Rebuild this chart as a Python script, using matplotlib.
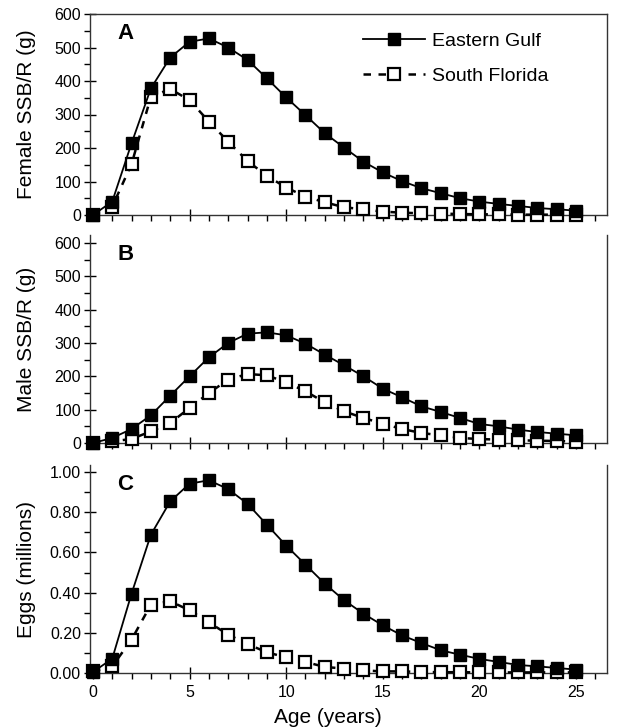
import matplotlib
matplotlib.use("Agg")
import matplotlib.pyplot as plt
from matplotlib.ticker import MultipleLocator, FixedLocator

plt.rcParams['font.family'] = ['Liberation Sans', 'DejaVu Sans']

ages = list(range(26))

female_eg = [0, 40, 214, 378, 470, 517, 527, 500, 463, 408, 351, 298, 244, 201, 159,
             127, 101, 80, 65, 50, 40, 33, 27, 21, 17, 13]
female_sf = [0, 25, 152, 353, 376, 343, 279, 219, 161, 117, 82, 55, 38, 23, 17,
             10, 7, 5, 4, 3, 2, 2, 1, 1, 1, 1]
male_eg = [0, 15, 42, 83, 142, 200, 257, 300, 328, 332, 323, 298, 265, 233, 200,
           163, 137, 110, 93, 75, 57, 50, 40, 33, 28, 23]
male_sf = [0, 5, 12, 35, 60, 105, 150, 190, 207, 203, 182, 155, 122, 95, 75,
           58, 42, 30, 23, 15, 12, 10, 8, 7, 6, 4]
eggs_eg = [0.005, 0.071, 0.395, 0.688, 0.854, 0.942, 0.959, 0.915, 0.842, 0.738, 0.634,
           0.539, 0.444, 0.362, 0.295, 0.237, 0.187, 0.149, 0.113, 0.091, 0.070,
           0.055, 0.040, 0.033, 0.025, 0.017]
eggs_sf = [0.008, 0.033, 0.166, 0.340, 0.357, 0.312, 0.252, 0.191, 0.144, 0.103, 0.078,
           0.055, 0.030, 0.022, 0.013, 0.008, 0.008, 0.005, 0.004, 0.004, 0.003,
           0.003, 0.003, 0.003, 0.003, 0.003]

series_names = ["Eastern Gulf", "South Florida"]
panel_letters = ["A", "B", "C"]
ylabels = ["Female SSB/R (g)", "Male SSB/R (g)", "Eggs (millions)"]
xlabel = "Age (years)"

W, H = 621, 728
fig = plt.figure(figsize=(W / 100, H / 100), dpi=100)

left_px, right_px = 90, 607
# (top_px, bottom_px) for each panel
panel_px = [(14, 215), (235, 443), (465, 673)]
ylims = [(0, 600), (0, 624), (0, 1.035)]

axes = []
for (tp, bp) in panel_px:
    ax = fig.add_axes([left_px / W, 1 - bp / H, (right_px - left_px) / W, (bp - tp) / H])
    axes.append(ax)

data = [(female_eg, female_sf), (male_eg, male_sf), (eggs_eg, eggs_sf)]

for i, ax in enumerate(axes):
    eg, sf = data[i]
    l2, = ax.plot(ages, sf, color='black', lw=1.8, ls=(0, (3, 3)), marker='s',
                  markersize=8, markerfacecolor='white', markeredgecolor='black',
                  markeredgewidth=1.6, clip_on=False, zorder=3, label=series_names[1])
    l1, = ax.plot(ages, eg, color='black', lw=1.3, ls='-', marker='s',
                  markersize=8, markerfacecolor='black', markeredgecolor='black',
                  clip_on=False, zorder=4, label=series_names[0])
    ax.set_xlim(-0.15, 26.6)
    ax.set_ylim(*ylims[i])
    ax.xaxis.set_major_locator(MultipleLocator(5))
    ax.xaxis.set_minor_locator(MultipleLocator(1))
    if i < 2:
        ax.yaxis.set_major_locator(MultipleLocator(100))
        ax.yaxis.set_minor_locator(MultipleLocator(50))
        ax.set_xticklabels([])
    else:
        ax.yaxis.set_major_locator(FixedLocator([0, 0.2, 0.4, 0.6, 0.8, 1.0]))
        ax.yaxis.set_minor_locator(FixedLocator([0.1, 0.3, 0.5, 0.7, 0.9]))
        ax.set_yticklabels(["0.00", "0.20", "0.40", "0.60", "0.80", "1.00"])
        ax.set_xlabel(xlabel, fontsize=15)
        ax.xaxis.set_label_coords(0.46, -0.17)
    if i > 0:
        ax.spines['top'].set_visible(False)
    for s in ax.spines.values():
        s.set_linewidth(1.0)
        s.set_color('#333333')
    ax.tick_params(axis='both', which='major', direction='inout', length=9, width=1.0,
                   labelsize=11.5, pad=2)
    ax.tick_params(axis='both', which='minor', direction='out', length=4.5, width=1.0)
    ax.tick_params(axis='x', which='major', pad=4)
    ax.set_ylabel(ylabels[i], fontsize=15)
    ax.yaxis.set_label_coords(-0.105, 0.5)
    ax.text(0.053, 0.955, panel_letters[i], transform=ax.transAxes, fontsize=16,
            fontweight='bold', ha='left', va='top')
    if i == 0:
        ax.legend(handles=[l1, l2], loc='upper left',
                  bbox_to_anchor=((363 - left_px) / (right_px - left_px), 0.91),
                  frameon=False, fontsize=14, handlelength=3.2, handletextpad=0.35,
                  labelspacing=0.9, borderpad=0, borderaxespad=0)

fig.savefig("out.png", dpi=100)
